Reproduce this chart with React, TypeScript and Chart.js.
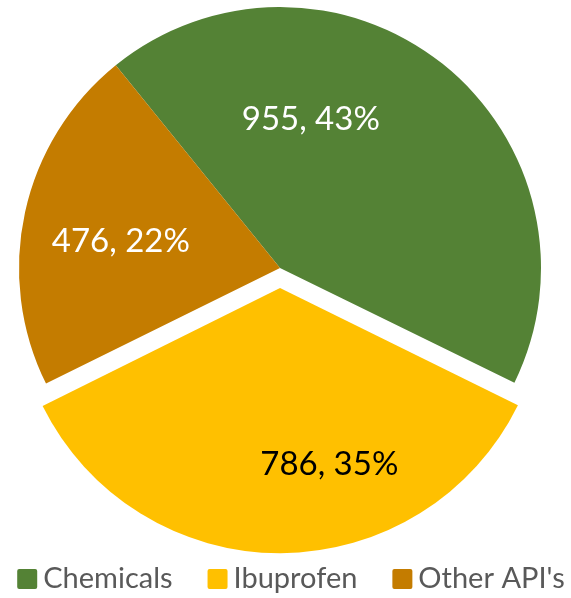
import React, { useEffect, useRef } from "react";
import { Chart, registerables } from "chart.js";

Chart.register(...registerables);

const categories = ["Chemicals", "Ibuprofen", "Other API's"];
const values = [955, 786, 476];
const percents = ["43%", "35%", "22%"];
const colors = ["#548235", "#FFC000", "#C47C00"];
const labelColors = ["#FFFFFF", "#000000", "#FFFFFF"];
const explode = [0, 80, 0];

const FONT = "Lato, 'Open Sans', sans-serif";

// per-label placement tweaks (angle shift in degrees from slice middle, radius fraction)
const labelPlacement = [
  { shift: -27, frac: 0.59 },
  { shift: -16, frac: 0.68 },
  { shift: -2, frac: 0.62 },
];

const labelPlugin = {
  id: "sliceLabels",
  afterDatasetsDraw(chart: any) {
    const ctx = chart.ctx;
    const meta = chart.getDatasetMeta(0);
    ctx.save();
    ctx.font = `33px ${FONT}`;
    ctx.textAlign = "center";
    ctx.textBaseline = "middle";
    meta.data.forEach((arc: any, i: number) => {
      const { x, y, startAngle, endAngle, outerRadius, circumference } = arc.getProps(
        ["x", "y", "startAngle", "endAngle", "outerRadius", "circumference"],
        true
      );
      const half = (startAngle + endAngle) / 2;
      const off = (arc.options.offset || 0) / 4;
      const fix = 1 - Math.sin(Math.min(Math.PI, circumference || 0));
      const tr = off * (1 + fix);
      const cx = x + Math.cos(half) * tr;
      const cy = y + Math.sin(half) * tr;
      const p = labelPlacement[i];
      const a = half + (p.shift * Math.PI) / 180;
      const r = p.frac * outerRadius;
      ctx.fillStyle = labelColors[i];
      ctx.fillText(`${values[i]}, ${percents[i]}`, cx + Math.cos(a) * r, cy + Math.sin(a) * r + 2);
    });
    ctx.restore();
  },
};

// simple bottom legend drawn in the space reserved by layout padding
const legendPlugin = {
  id: "bottomLegend",
  afterDraw(chart: any) {
    const ctx = chart.ctx;
    const box = 20;
    const gapText = 6;
    const gapItem = 35;
    ctx.save();
    ctx.font = `29px ${FONT}`;
    ctx.textBaseline = "middle";
    ctx.textAlign = "left";
    const widths = categories.map((c) => ctx.measureText(c).width);
    const total =
      widths.reduce((s, w) => s + w + box + gapText, 0) + gapItem * (categories.length - 1);
    let x = 291 - total / 2;
    const yc = 579;
    categories.forEach((c, i) => {
      ctx.fillStyle = colors[i];
      ctx.beginPath();
      (ctx as any).roundRect(x, yc - box / 2, box, box, 2);
      ctx.fill();
      x += box + gapText;
      ctx.fillStyle = "#595959";
      ctx.fillText(c, x, yc);
      x += widths[i] + gapItem;
    });
    ctx.restore();
  },
};

export default function App() {
  const ref = useRef<HTMLCanvasElement | null>(null);
  useEffect(() => {
    document.body.style.margin = "0";
    const chart = new Chart(ref.current as HTMLCanvasElement, {
      type: "pie",
      data: {
        labels: categories,
        datasets: [
          {
            data: values,
            backgroundColor: colors,
            borderWidth: 0,
            offset: explode,
            clip: false,
          } as any,
        ],
      },
      options: {
        responsive: false,
        animation: false,
        rotation: -39,
        radius: 261,
        layout: { padding: { top: 0, bottom: 62, left: 0, right: 11 } },
        plugins: {
          tooltip: { enabled: false },
          legend: { display: false },
        },
      } as any,
      plugins: [labelPlugin, legendPlugin],
    });
    return () => chart.destroy();
  }, []);
  return (
    <div style={{ width: 571, height: 598 }}>
      <canvas ref={ref} width={571} height={598} />
    </div>
  );
}
